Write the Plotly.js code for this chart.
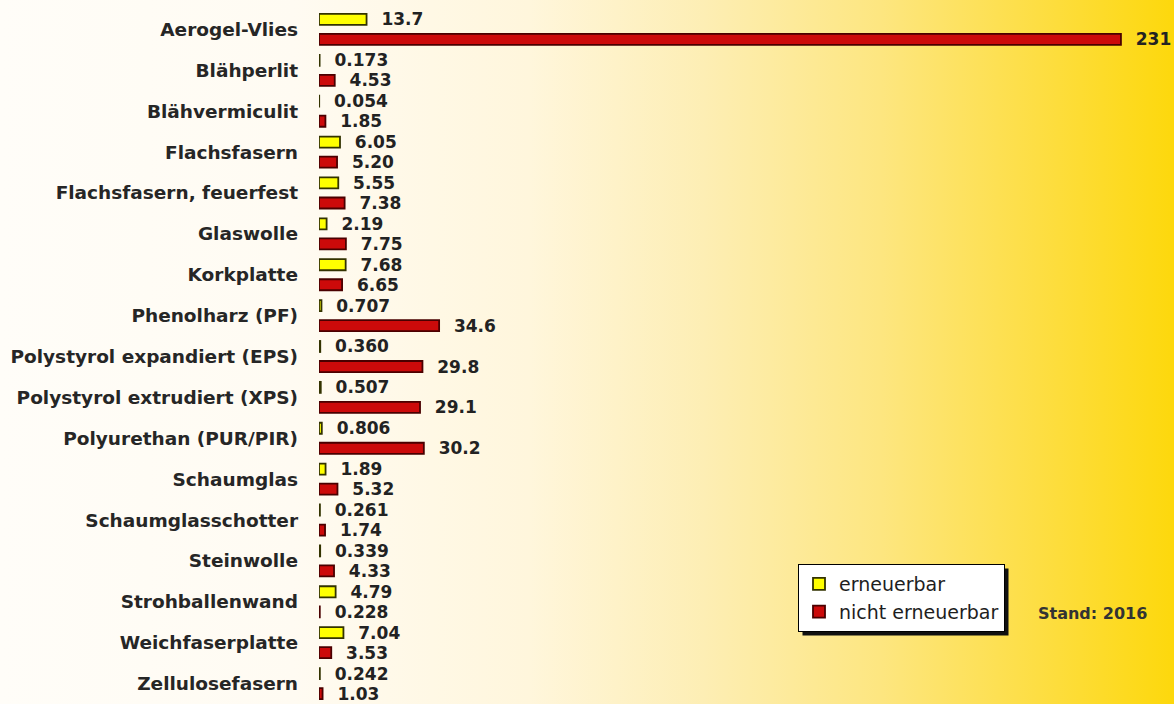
<!DOCTYPE html>
<html>
<head>
<meta charset="utf-8">
<script src="https://cdn.plot.ly/plotly-3.0.1.min.js"></script>
<style>
html, body { margin:0; padding:0; }
body {
  width:1174px; height:704px; overflow:hidden;
  background: linear-gradient(to right, #fffdf8 0%, #fffbf2 25%, #fff6dc 45%, #fdeeb4 60%, #fde680 75%, #fddd3c 90%, #fdd80c 100%);
}
#chart { width:1174px; height:704px; }
</style>
</head>
<body>
<div id="chart"></div>
<script>
const categories = [
  "Aerogel-Vlies", "Blähperlit", "Blähvermiculit", "Flachsfasern",
  "Flachsfasern, feuerfest", "Glaswolle", "Korkplatte", "Phenolharz (PF)",
  "Polystyrol expandiert (EPS)", "Polystyrol extrudiert (XPS)",
  "Polyurethan (PUR/PIR)", "Schaumglas", "Schaumglasschotter", "Steinwolle",
  "Strohballenwand", "Weichfaserplatte", "Zellulosefasern"
];
const erneuerbar = [13.7, 0.173, 0.054, 6.05, 5.55, 2.19, 7.68, 0.707, 0.360, 0.507, 0.806, 1.89, 0.261, 0.339, 4.79, 7.04, 0.242];
const nichtErneuerbar = [231, 4.53, 1.85, 5.20, 7.38, 7.75, 6.65, 34.6, 29.8, 29.1, 30.2, 5.32, 1.74, 4.33, 0.228, 3.53, 1.03];
const seriesNames = ["erneuerbar", "nicht erneuerbar"];
const noteText = "Stand: 2016";

function fmt(v) {
  return v < 0.1 ? v.toFixed(3) : v.toPrecision(3);
}
const pad = "\u00a0\u00a0";

const labelFont = { family: "DejaVu Sans, sans-serif", size: 17, color: "#222222", weight: "bold" };

const traces = [
  {
    type: "bar", orientation: "h", name: seriesNames[0], legendgroup: "a",
    y: categories, x: erneuerbar,
    text: erneuerbar.map(v => pad + fmt(v)),
    textposition: "outside", constraintext: "none", cliponaxis: false,
    textfont: labelFont,
    marker: { color: "#ffff00", line: { color: "#333300", width: 1.8 } },
    hoverinfo: "skip"
  },
  {
    type: "bar", orientation: "h", name: seriesNames[1], legendgroup: "b",
    y: categories, x: nichtErneuerbar,
    text: nichtErneuerbar.map(v => pad + fmt(v)),
    textposition: "outside", constraintext: "none", cliponaxis: false,
    textfont: labelFont,
    marker: { color: "#cc0a0a", line: { color: "#4a0000", width: 1.8 } },
    hoverinfo: "skip"
  }
];

const plotL = 319, plotR = 1173, plotT = 9, plotB = 704;
const pw = plotR - plotL, ph = plotB - plotT;
function px2paperX(px) { return (px - plotL) / pw; }
function px2paperY(py) { return 1 - (py - plotT) / ph; }

const legLeft = 798, legTop = 564;

const layout = {
  width: 1174, height: 704,
  margin: { l: plotL, r: 1174 - plotR, t: plotT, b: 704 - plotB, pad: 0 },
  paper_bgcolor: "rgba(0,0,0,0)",
  plot_bgcolor: "rgba(0,0,0,0)",
  barmode: "group",
  bargap: 0.02,
  bargroupgap: 0.45,
  showlegend: true,
  xaxis: {
    range: [0, 246], showgrid: false, zeroline: false,
    showticklabels: false, ticks: "", showline: false, fixedrange: true
  },
  yaxis: {
    type: "category", range: [16.5, -0.5], showgrid: false, zeroline: false,
    showline: false, ticks: "", ticklabelstandoff: 20,
    tickfont: { family: "DejaVu Sans, sans-serif", size: 18.5, color: "#262626", weight: "bold" },
    fixedrange: true
  },
  legend: {
    x: px2paperX(legLeft), y: px2paperY(legTop), xanchor: "left", yanchor: "top",
    bgcolor: "#ffffff", bordercolor: "#000000", borderwidth: 1,
    font: { family: "DejaVu Sans, sans-serif", size: 19, color: "#1e1e1e" },
    itemwidth: 30, traceorder: "grouped", tracegroupgap: 0
  },
  shapes: [],
  annotations: [
    {
      text: noteText, xref: "paper", yref: "paper",
      x: px2paperX(1036), y: px2paperY(613), xanchor: "left", yanchor: "middle",
      showarrow: false,
      font: { family: "DejaVu Sans, sans-serif", size: 16, color: "#333333", weight: "bold" }
    }
  ]
};

Plotly.newPlot("chart", traces, layout, { staticPlot: true, displayModeBar: false }).then(gd => {
  const bg = gd.querySelector(".legend .bg");
  if (!bg) return;
  const r = bg.getBoundingClientRect();
  const off = 4;
  return Plotly.relayout(gd, {
    shapes: [{
      type: "rect", xref: "paper", yref: "paper", layer: "above",
      x0: px2paperX(r.left + off), x1: px2paperX(r.right + off),
      y0: px2paperY(r.bottom + off), y1: px2paperY(r.top + off),
      fillcolor: "#111111", line: { width: 0 }
    }]
  });
});
</script>
</body>
</html>
